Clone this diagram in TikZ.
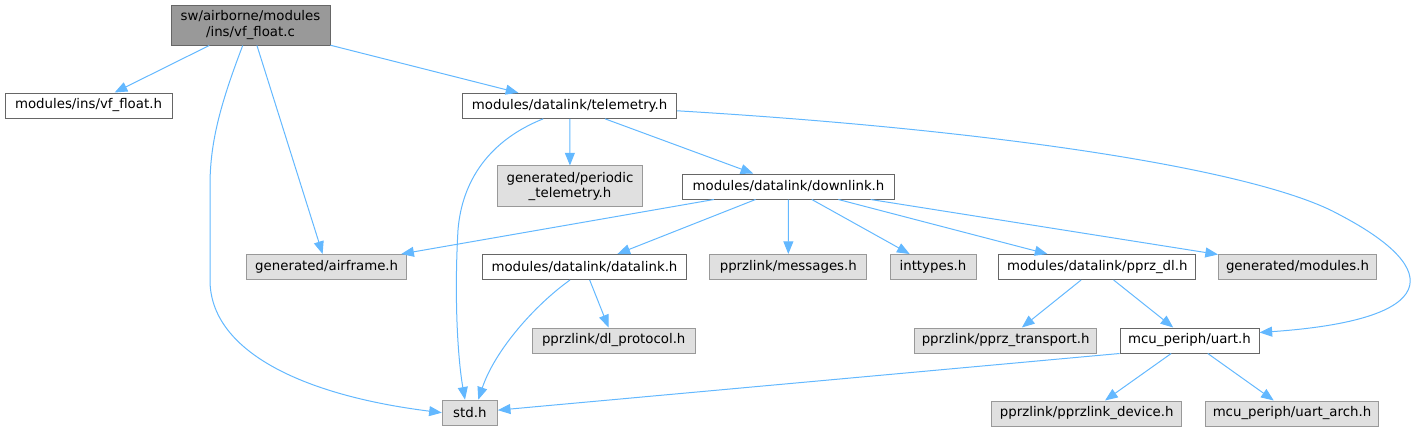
\documentclass[tikz,border=0pt]{standalone}
\usepackage{fontspec}
\setmainfont{DejaVu Sans}
\usepackage{tikz}
\usetikzlibrary{arrows.meta,calc}
\definecolor{cedge}{HTML}{63B8FF}
\definecolor{cmain}{HTML}{999999}
\definecolor{cgray}{HTML}{E0E0E0}
\definecolor{cline}{HTML}{666666}
\tikzset{
  file/.style={rectangle,draw=cline,fill=white,line width=0.75pt,
    minimum height=18.75pt,inner sep=0pt,align=center,
    font=\fontsize{10}{11.5}\selectfont},
  mainfile/.style={file,fill=cmain,minimum height=30pt},
  sysfile/.style={file,fill=cgray,draw=cmain},
  inc/.style={draw=cedge,line width=0.75pt,
    -{Triangle[length=9.5pt,width=7.5pt]}}
}

\begin{document}
\begin{tikzpicture}[x=0.75pt,y=-0.75pt]
\useasboundingbox (0,0) rectangle (1411,432);
% ---------------- files ----------------
\node[mainfile,minimum width=119.25pt] (c) at (250.5,25)
  {sw/airborne/modules\\/ins/vf\_float.c};
\node[file,minimum width=125.25pt] (vfh) at (88.5,105.5) {modules/ins/vf\_float.h};
\node[file,minimum width=160.5pt] (tel) at (569.7,105.8) {modules/datalink/telemetry.h};
\node[sysfile,minimum width=108.75pt,minimum height=30.5pt] (per) at (570,186.3)
  {generated/periodic\\\_telemetry.h};
\node[file,minimum width=159pt] (dwn) at (788.5,186.5) {modules/datalink/downlink.h};
\node[sysfile,minimum width=120pt] (air) at (326.7,267) {generated/airframe.h};
\node[file,minimum width=153pt] (dlk) at (584.5,267) {modules/datalink/datalink.h};
\node[sysfile,minimum width=117.75pt] (msg) at (788.3,267) {pprzlink/messages.h};
\node[sysfile,minimum width=64.5pt] (int) at (933,267) {inttypes.h};
\node[file,minimum width=147.75pt] (pdl) at (1097.3,267) {modules/datalink/pprz\_dl.h};
\node[sysfile,minimum width=118.5pt] (gmod) at (1297.5,267) {generated/modules.h};
\node[sysfile,minimum width=122.25pt] (dlp) at (613.7,340.5) {pprzlink/dl\_protocol.h};
\node[sysfile,minimum width=136.5pt] (ptr) at (1005.7,340.5) {pprzlink/pprz\_transport.h};
\node[file,minimum width=104.25pt] (uart) at (1189.5,340.5) {mcu\_periph/uart.h};
\node[sysfile,minimum width=41.25pt] (std) at (469.8,412.7) {std.h};
\node[sysfile,minimum width=142.5pt] (dev) at (1086.7,413.5) {pprzlink/pprzlink\_device.h};
\node[sysfile,minimum width=129.75pt] (arch) at (1292,413.5) {mcu\_periph/uart\_arch.h};
% ---------------- includes of vf_float.c ----------------
\draw[inc] (c) -- (vfh);
\draw[inc] (c) -- (air);
\draw[inc] (c) -- (tel);
\draw[inc] ($(c.south)+(-7.8,0)$) .. controls (222,100) and (210,140) .. (210,185)
  -- (210,280) .. controls (210,350) and (300,395) .. (std.west);
% ---------------- telemetry.h ----------------
\draw[inc] (tel) -- (per);
\draw[inc] (tel) -- (dwn);
\draw[inc] ($(tel.south)+(-26.4,0)$) .. controls (490,140) and (462,180) .. (458,230)
  .. controls (454,300) and (458,360) .. ($(std.north)+(-4.8,0)$);
\draw[inc] ($(tel.east)+(0,5)$) .. controls (1000,130) and (1260,170) .. (1340,215)
  .. controls (1445,270) and (1440,320) .. ($(uart.east)+(0,-8)$);
% ---------------- downlink.h ----------------
\foreach \f in {air,dlk,msg,int,pdl,gmod}
  \draw[inc] (dwn) -- (\f);
% ---------------- datalink.h ----------------
\draw[inc] (dlk) -- (dlp);
\draw[inc] ($(dlk.south)+(-14.5,0)$) .. controls (535,305) and (495,350)
  .. ($(std.north)+(8.5,0)$);
% ---------------- pprz_dl.h and uart.h ----------------
\draw[inc] (pdl) -- (ptr);
\draw[inc] (pdl) -- (uart);
\draw[inc] (uart.south west) -- (std);
\draw[inc] (uart) -- (dev);
\draw[inc] (uart) -- (arch);
\end{tikzpicture}
\end{document}
